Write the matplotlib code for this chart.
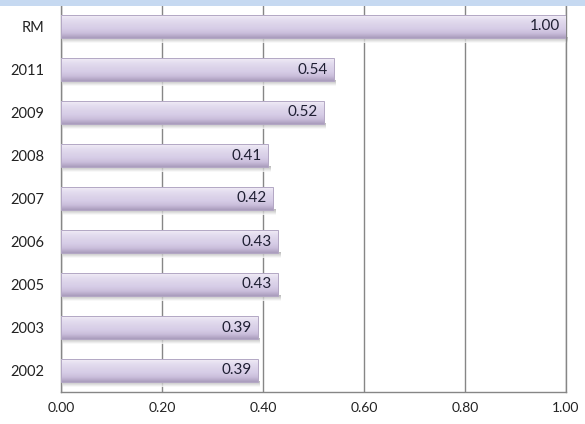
import numpy as np
import matplotlib.pyplot as plt
from matplotlib.patches import Rectangle
from matplotlib.colors import LinearSegmentedColormap

# --- Data ---
categories = ["RM", "2011", "2009", "2008", "2007", "2006", "2005", "2003", "2002"]
values = [1.00, 0.54, 0.52, 0.41, 0.42, 0.43, 0.43, 0.39, 0.39]
xticks = [0.0, 0.2, 0.4, 0.6, 0.8, 1.0]

plt.rcParams['font.family'] = ['Lato', 'DejaVu Sans']

fig = plt.figure(figsize=(5.85, 4.24), dpi=100)
ax = fig.add_axes([61 / 585, 32 / 424, 505 / 585, 387 / 424])

# light blue band at the very top (cut-off title area)
fig.patches.append(Rectangle((0, 1 - 6 / 424), 1, 6 / 424, transform=fig.transFigure,
                             facecolor="#c6d9f1", edgecolor="none", zorder=5))

n = len(categories)
ypos = np.arange(n)[::-1]
h = 0.53

# vertical gradient for bars (bottom -> top)
grad = np.linspace(0, 1, 64).reshape(-1, 1)
cmap = LinearSegmentedColormap.from_list(
    "lav", ["#a99cbc", "#c9bdda", "#d6cce6", "#dcd4ea", "#e4ddef", "#f1edf7"])
shadow_cmap = LinearSegmentedColormap.from_list("sh", ["#ffffff", "#c8c8c8", "#9a9a9a"])

for y, v in zip(ypos, values):
    # soft shadow below the bar
    sh = Rectangle((0.003, y - h / 2 - 0.12), v, 0.14, facecolor="none",
                   edgecolor="none", zorder=2)
    ax.add_patch(sh)
    sim = ax.imshow(grad, extent=[0.003, v + 0.003, y - h / 2 - 0.12, y - h / 2 + 0.02],
                    aspect="auto", cmap=shadow_cmap, origin="lower", zorder=2,
                    interpolation="bilinear", alpha=0.8)
    sim.set_clip_path(sh)
    rect = Rectangle((0, y - h / 2), v, h, facecolor="none", edgecolor="#b3a7c4",
                     linewidth=0.7, zorder=4)
    ax.add_patch(rect)
    im = ax.imshow(grad, extent=[0, v, y - h / 2, y + h / 2], aspect="auto",
                   cmap=cmap, origin="lower", zorder=3, interpolation="bilinear")
    im.set_clip_path(rect)
    ax.text(v - 0.012, y, f"{v:.2f}", ha="right", va="center", fontsize=11,
            color="#1f1f33", zorder=6)

ax.set_xlim(0, 1)
ax.set_ylim(-0.5, n - 0.5)
ax.set_xticks(xticks)
ax.set_xticklabels([f"{t:.2f}" for t in xticks], fontsize=10)
ax.set_yticks(ypos)
ax.set_yticklabels(categories, fontsize=10.5)
ax.tick_params(axis="both", length=0, colors="#222222")
ax.tick_params(axis="x", pad=7)
ax.tick_params(axis="y", pad=12)

ax.grid(axis="x", color="#868686", linewidth=1, zorder=1)
ax.set_axisbelow(True)
ax.spines["top"].set_visible(False)
for side in ["left", "bottom", "right"]:
    ax.spines[side].set_color("#868686")
    ax.spines[side].set_linewidth(1)

plt.savefig("out.png", dpi=100)
plt.close()
